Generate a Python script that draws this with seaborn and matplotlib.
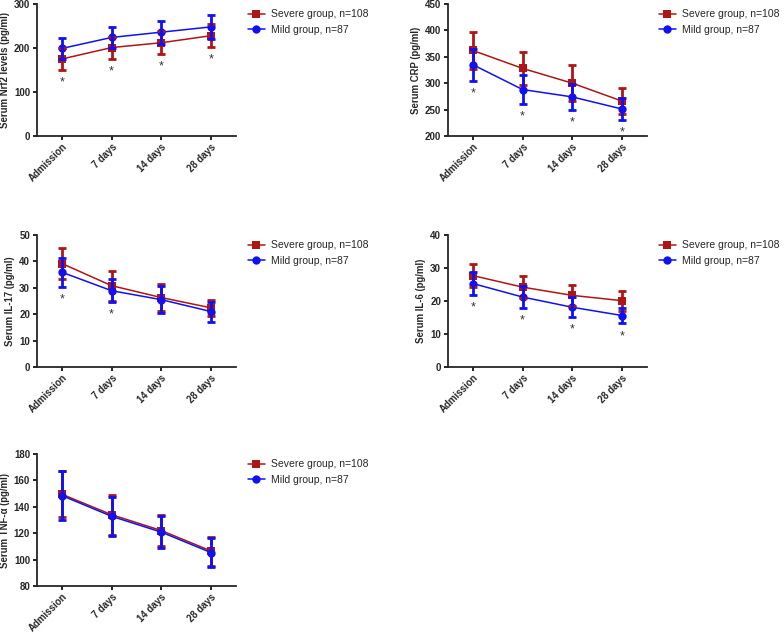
import numpy as np
import pandas as pd
import seaborn as sns
import matplotlib.pyplot as plt

# -----------------------------
# Data (mean and SD)
# -----------------------------
times = ["Admission", "7 days", "14 days", "28 days"]
groups = ["Severe group, n=108", "Mild group, n=87"]

nrf2_severe = [175, 201, 212, 228]
nrf2_severe_sd = [25, 25, 26, 26]
nrf2_mild = [199, 224, 236, 248]
nrf2_mild_sd = [23, 24, 26, 27]

crp_severe = [362, 328, 300, 266]
crp_severe_sd = [35, 31, 34, 24]
crp_mild = [335, 288, 274, 251]
crp_mild_sd = [30, 28, 25, 21]

il17_severe = [39.2, 30.8, 26.3, 22.4]
il17_severe_sd = [5.7, 5.7, 5.0, 3.0]
il17_mild = [35.9, 28.9, 25.5, 21.0]
il17_mild_sd = [5.5, 4.3, 5.0, 3.8]

il6_severe = [27.7, 24.2, 21.7, 20.1]
il6_severe_sd = [3.5, 3.3, 3.1, 3.0]
il6_mild = [25.3, 21.2, 18.1, 15.6]
il6_mild_sd = [3.5, 3.2, 3.0, 2.4]

tnf_severe = [149.5, 134.0, 122.0, 106.5]
tnf_severe_sd = [17.6, 15.2, 12.0, 11.0]
tnf_mild = [148.5, 132.8, 120.8, 105.3]
tnf_mild_sd = [18.4, 14.6, 12.3, 11.0]

panels = [
    ("Serum Nrf2 levels (pg/ml)", nrf2_severe, nrf2_severe_sd, nrf2_mild, nrf2_mild_sd,
     (0, 300), [0, 100, 200, 300], [1, 1, 1, 1]),
    ("Serum CRP (pg/ml)", crp_severe, crp_severe_sd, crp_mild, crp_mild_sd,
     (200, 450), [200, 250, 300, 350, 400, 450], [1, 1, 1, 1]),
    ("Serum IL-17 (pg/ml)", il17_severe, il17_severe_sd, il17_mild, il17_mild_sd,
     (0, 50), [0, 10, 20, 30, 40, 50], [1, 1, 0, 0]),
    ("Serum IL-6 (pg/ml)", il6_severe, il6_severe_sd, il6_mild, il6_mild_sd,
     (0, 40), [0, 10, 20, 30, 40], [1, 1, 1, 1]),
    ("Serum TNF-\u03b1 (pg/ml)", tnf_severe, tnf_severe_sd, tnf_mild, tnf_mild_sd,
     (80, 180), [80, 100, 120, 140, 160, 180], [0, 0, 0, 0]),
]

# -----------------------------
# Style
# -----------------------------
sns.set_style("ticks")
plt.rcParams["font.family"] = ["Liberation Sans", "DejaVu Sans"]
plt.rcParams["axes.linewidth"] = 1.3

red = "#B01515"
blue = "#1010F5"
palette = {groups[0]: red, groups[1]: blue}

fig = plt.figure(figsize=(7.84, 6.34), dpi=100)

# axes positions in pixels: left, top of plot area
pos = [(37, 4), (448, 4), (37, 235), (448, 235), (37, 454)]
w_px, h_px = 199, 132

for (ylabel, sev, sev_sd, mild, mild_sd, ylim, yticks, stars), (lx, ty) in zip(panels, pos):
    ax = fig.add_axes([lx / 784, 1 - (ty + h_px) / 634, w_px / 784, h_px / 634])

    df = pd.DataFrame({
        "time": times * 2,
        "value": sev + mild,
        "sd": sev_sd + mild_sd,
        "group": [groups[0]] * 4 + [groups[1]] * 4,
    })

    sns.lineplot(
        data=df, x="time", y="value", hue="group", style="group",
        markers={groups[0]: "s", groups[1]: "o"}, dashes=False,
        palette=palette, linewidth=1.1, markersize=6,
        markeredgewidth=0, ax=ax, sort=False,
    )

    for g in groups:
        d = df[df["group"] == g]
        ax.errorbar(
            np.arange(len(times)), d["value"], yerr=d["sd"], fmt="none",
            ecolor=palette[g], elinewidth=2.0, capsize=3, capthick=2.0,
        )

    # significance marks below the lowest error bar
    low = np.minimum(np.array(sev) - np.array(sev_sd), np.array(mild) - np.array(mild_sd))
    for i, s in enumerate(stars):
        if s:
            ax.annotate("*", (i, low[i]), xytext=(0, -9), textcoords="offset points",
                        ha="center", va="center", fontsize=9, color="#333333")

    ax.set_xlim(-0.5, 3.5)
    ax.set_ylim(*ylim)
    ax.set_yticks(yticks)
    ax.set_xlabel("")
    ax.set_ylabel(ylabel, fontsize=6.9, fontweight="bold", labelpad=3)
    ax.set_xticks(range(len(times)))
    ax.set_xticklabels(times, rotation=45, ha="right", rotation_mode="anchor",
                       fontsize=6.9, fontweight="bold")
    for lab in ax.get_yticklabels():
        lab.set_fontweight("bold")
        lab.set_fontsize(7)
    ax.tick_params(axis="both", length=3, width=1.2, pad=2, color="black")
    ax.tick_params(axis="x", pad=1)
    sns.despine(ax=ax)

    ax.legend(loc="upper left", bbox_to_anchor=(1.04, 0.99), frameon=False,
              fontsize=7.5, handlelength=1.6, handletextpad=0.6,
              labelspacing=0.5, borderaxespad=0)

plt.savefig("out.png", dpi=100)
plt.close()
